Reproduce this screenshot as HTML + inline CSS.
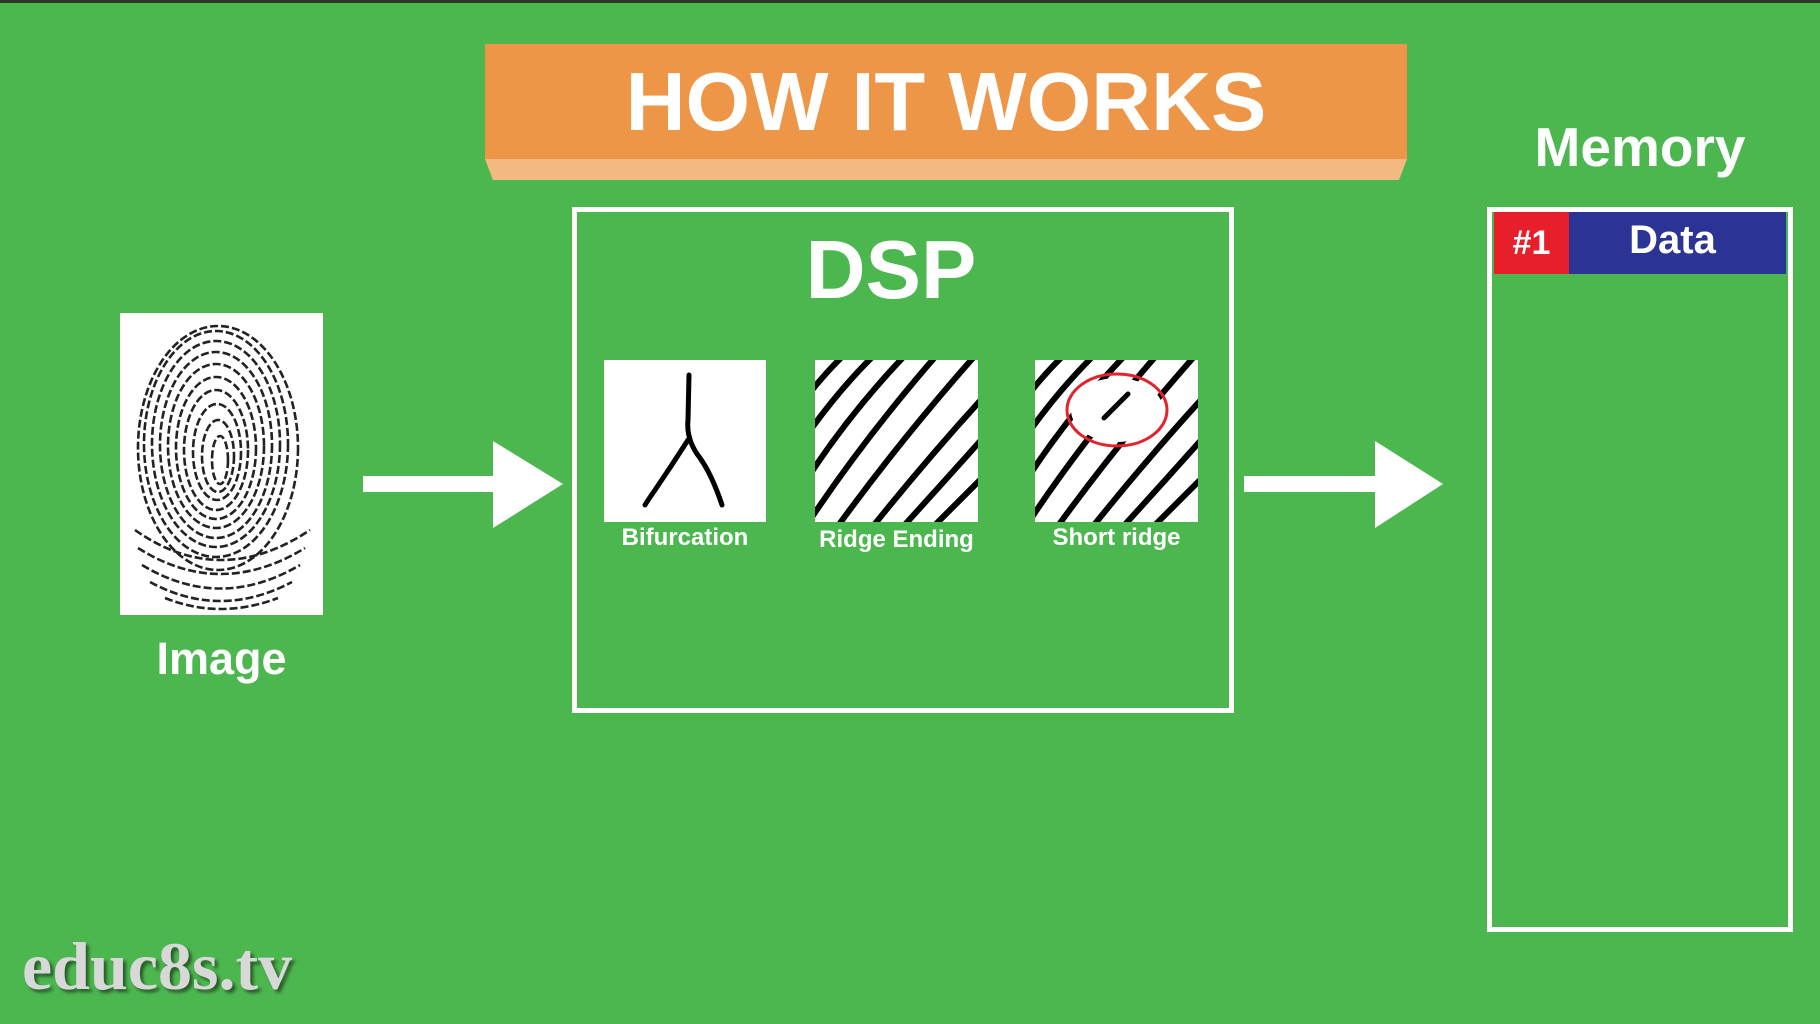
<!DOCTYPE html>
<html><head><meta charset="utf-8"><style>
html,body{margin:0;padding:0}
body{width:1820px;height:1024px;background:#4cb74f;position:relative;overflow:hidden;font-family:"Liberation Sans",sans-serif;color:#fff}
.abs{position:absolute}
.t{font-weight:bold;text-align:center;white-space:nowrap}
</style></head><body>
<div class="abs" style="left:0;top:0;width:1820px;height:3px;background:#2a3a2a"></div>
<svg class="abs" style="left:0;top:0" width="1820" height="1024">
 <polygon points="485,159 1407,159 1399,180 493,180" fill="#f4b983"/>
 <rect x="485" y="44" width="922" height="115" fill="#ee9647"/>
 <polygon points="363,476 493,476 493,441 563,484 493,528 493,492 363,492" fill="#fff"/>
 <polygon points="1244,476 1375,476 1375,441 1443,484 1375,528 1375,492 1244,492" fill="#fff"/>
 <rect x="574.5" y="209.5" width="657" height="501" fill="none" stroke="#fff" stroke-width="5"/>
 <rect x="1489.5" y="209.5" width="301" height="720" fill="none" stroke="#fff" stroke-width="5"/>
 <rect x="1494" y="212" width="75" height="62" fill="#e71f2a"/>
 <rect x="1569" y="212" width="217" height="62" fill="#2b3494"/>
 <rect x="120" y="313" width="203" height="302" fill="#fff"/>
 <g fill="none" stroke="#222" stroke-width="2.6" stroke-dasharray="8 3">
  <ellipse cx="220" cy="460" rx="8" ry="24"/>
  <ellipse cx="218" cy="456" rx="16" ry="36"/>
  <ellipse cx="217" cy="452" rx="24" ry="48"/>
  <ellipse cx="216" cy="450" rx="32" ry="60"/>
  <ellipse cx="216" cy="448" rx="40" ry="71"/>
  <ellipse cx="216" cy="446" rx="48" ry="82"/>
  <ellipse cx="216" cy="445" rx="56" ry="93"/>
  <ellipse cx="216" cy="444" rx="64" ry="103"/>
  <ellipse cx="216" cy="444" rx="72" ry="113"/>
  <ellipse cx="218" cy="448" rx="80" ry="122"/>
  <path d="M135,530 Q220,590 310,530 M138,548 Q220,600 305,548 M142,565 Q220,612 300,565 M150,582 Q220,620 292,582 M165,598 Q220,620 278,598"/>
 </g>
 <rect x="604" y="360" width="162" height="162" fill="#fff"/>
 <path d="M689,375 L688,420 Q686,440 700,458 Q712,475 722,505 M688,440 Q672,465 655,490 Q648,500 645,505" fill="none" stroke="#000" stroke-width="5" stroke-linecap="round"/>
 <defs>
  <clipPath id="c1"><rect x="815" y="360" width="163" height="162"/></clipPath>
  <clipPath id="c2"><rect x="1035" y="360" width="163" height="162"/></clipPath>
 </defs>
 <rect x="815" y="360" width="163" height="162" fill="#fff"/>
 <g clip-path="url(#c1)" stroke="#000" stroke-width="6" fill="none">
  <path d="M790,420 Q820,375 860,340 M790,460 Q835,390 890,340 M800,490 Q850,410 920,340 M810,520 Q870,430 950,340 M835,530 Q900,440 980,350 M870,530 Q930,455 990,390 M900,530 Q950,475 990,430 M930,530 Q960,500 990,470"/>
 </g>
 <rect x="1035" y="360" width="163" height="162" fill="#fff"/>
 <g clip-path="url(#c2)" stroke="#000" stroke-width="6" fill="none">
  <path d="M1010,420 Q1040,375 1080,340 M1010,460 Q1055,390 1110,340 M1020,490 Q1070,410 1140,340 M1030,520 Q1090,430 1170,340 M1055,530 Q1120,440 1200,350 M1090,530 Q1150,455 1210,390 M1120,530 Q1170,475 1210,430 M1150,530 Q1180,500 1210,470"/>
 </g>
 <ellipse cx="1117" cy="410" rx="46" ry="32" fill="#fff"/>
 <path d="M1104,418 L1128,394" stroke="#000" stroke-width="5" stroke-linecap="round"/>
 <ellipse cx="1117" cy="410" rx="50" ry="36" fill="none" stroke="#e2232b" stroke-width="3"/>
</svg>
<div class="abs t" style="left:485px;top:44px;width:922px;line-height:115px;font-size:83px">HOW IT WORKS</div>
<div class="abs t" style="left:1487px;top:115px;width:306px;font-size:55px;line-height:64px">Memory</div>
<div class="abs t" style="left:1494px;top:212px;width:75px;line-height:62px;font-size:34px">#1</div>
<div class="abs t" style="left:1569px;top:212px;width:207px;line-height:56px;font-size:40px">Data</div>
<div class="abs t" style="left:560px;top:222px;width:662px;font-size:83px;line-height:96px">DSP</div>
<div class="abs t" style="left:110px;top:633px;width:223px;font-size:45px;line-height:52px">Image</div>
<div class="abs t" style="left:584px;top:525px;width:202px;font-size:24px;line-height:26px">Bifurcation</div>
<div class="abs t" style="left:795px;top:527px;width:203px;font-size:24px;line-height:26px">Ridge Ending</div>
<div class="abs t" style="left:1015px;top:525px;width:203px;font-size:24px;line-height:26px">Short ridge</div>
<div class="abs" style="left:22px;top:928px;font-family:'Liberation Serif',serif;font-weight:bold;font-size:68px;line-height:76px;color:#d8d8d8;text-shadow:3px 3px 3px rgba(0,0,0,0.5)">educ8s.tv</div>
</body></html>
